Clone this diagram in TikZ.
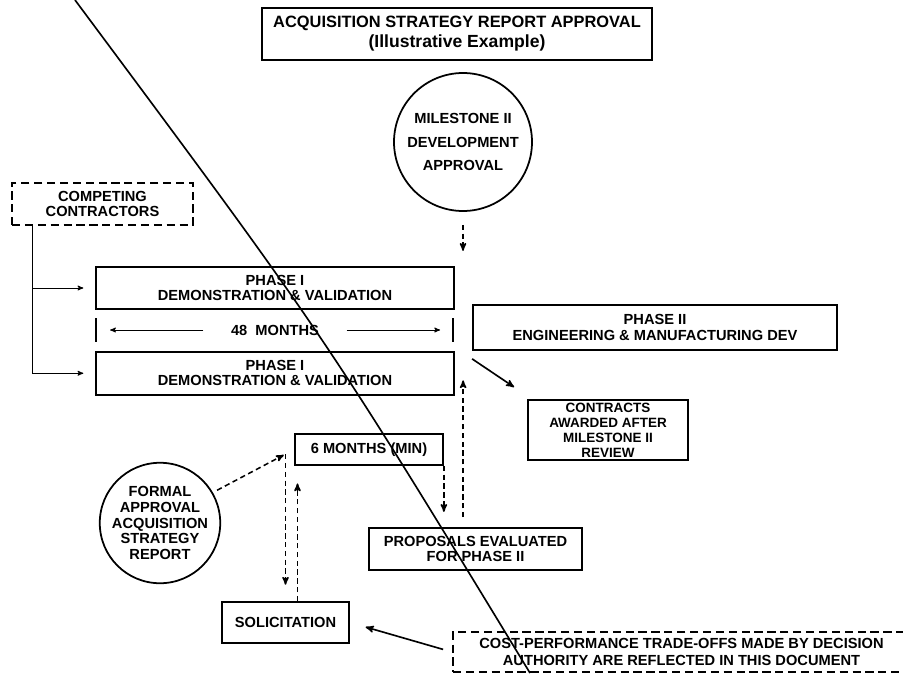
\documentclass[tikz,border=0pt]{standalone}
\usepackage{fontspec}
\setmainfont{Liberation Sans}
\usetikzlibrary{arrows, positioning, calc}
\tikzset{
  wh/.style 2 args={minimum width=#1*0.03cm, minimum height=#2*0.03cm},
  box/.style={draw, line width=1.5pt, align=center, inner sep=0pt},
  dbox/.style={box, dash pattern=on 7pt off 4pt},
  disc/.style={circle, draw, line width=1.5pt, align=center, inner sep=0pt},
  dline/.style={line width=1.3pt, dash pattern=on 4.5pt off 3pt},
  lead/.style={font=\bfseries\fontsize{12.5}{#1}\selectfont},
}

\begin{document}
\begin{tikzpicture}[x=0.03cm, y=-0.03cm, >=stealth', line width=1pt, every node/.style={lead=13}]
\useasboundingbox (0,0) rectangle (903,673);
\clip (0,0) rectangle (903,673);
% nodes
\node[box, wh={390}{52}, font=\bfseries\fontsize{14}{17}\selectfont] (title) at (457,34) {ACQUISITION STRATEGY REPORT APPROVAL\\{\fontsize{15}{17}\selectfont(Illustrative Example)}};
\node[disc, minimum size=138*0.03cm, lead=20] (msII) at (463,142) {MILESTONE II\\DEVELOPMENT\\APPROVAL};
\node[dbox, wh={181}{42}] (comp) at (102.5,204) {COMPETING\\CONTRACTORS};
\node[box, wh={358}{42}] (ph1a) at (275,288) {PHASE I\\DEMONSTRATION \& VALIDATION};
\node[box, wh={358}{43}, below=1.23cm of ph1a] (ph1b) {PHASE I\\DEMONSTRATION \& VALIDATION};
\node[wh={142}{20}] (mon) at (275,330) {48\ \ MONTHS};
\coordinate (ml) at (96,330);
\coordinate (mr) at (453,330);
\node[box, wh={364}{45}] (ph2) at (655,327.5) {PHASE II\\ENGINEERING \& MANUFACTURING DEV};
\node[box, wh={160}{60}, font=\bfseries\fontsize{11.5}{12.8}\selectfont] (contr) at (608,430) {CONTRACTS\\AWARDED AFTER\\MILESTONE II\\REVIEW};
\node[box, wh={148}{31}] (sixm) at (369,449.5) {6 MONTHS (MIN)};
\node[disc, minimum size=116*0.03cm, lead=13.3] (formal) at (160,523) {FORMAL\\APPROVAL\\ACQUISITION\\STRATEGY\\REPORT};
\node[box, wh={213}{42}] (prop) at (475.5,549) {PROPOSALS EVALUATED\\FOR PHASE II};
\node[box, wh={127}{41}] (solic) at (285.5,622.5) {SOLICITATION};
\node[dbox, wh={457}{40}, lead=14] (cost) at (681.5,652) {COST-PERFORMANCE TRADE-OFFS MADE BY DECISION\\AUTHORITY ARE REFLECTED IN THIS DOCUMENT};
% connectors
\draw[->, dline, shorten <=11] (msII.south) -- ++(0,39);
\coordinate (cj) at ($(comp.south west)+(21,0)$);
\draw[->, line width=0.8pt, shorten >=10] (cj) |- (ph1b.west);
\draw[->, line width=0.8pt, shorten >=10] (cj |- ph1a.west) -- (ph1a.west);
\draw[line width=1.5pt] (ml) ++(0,-12) -- ++(0,24);
\draw[line width=1.5pt] (mr) ++(0,-12) -- ++(0,24);
\draw[->, line width=0.8pt, shorten >=12] (mon.west) -- (ml);
\draw[->, line width=0.8pt, shorten >=11] (mon.east) -- (mr);
\draw[->, line width=1.4pt] ($(ph2.south west)+(0,8)$) -- ($(contr.north west)+(-13,-12)$);
\draw[->, dline, shorten <=4, shorten >=10] (formal.30) -- (sixm.west);
\draw[->, dline, shorten <=4, shorten >=14] (solic.north |- sixm.west) -- (solic.north);
\coordinate (su) at ($(solic.north)+(12,0)$);
\draw[->, dline, shorten >=15] (su) -- (su |- sixm.south);
\draw[->, dline, shorten >=13] (sixm.south east) -- (sixm.south east |- prop.north);
\coordinate (pu) at ($(prop.north west)+(95,-10)$);
\draw[->, dline, shorten >=6] (pu) -- (pu |- ph1b.east);
\draw[->, line width=1.4pt, shorten <=8, shorten >=14] (cost.west) -- (solic.east);
% stray scan line
\draw[line width=1.4pt] (75,0) .. controls (325,336) .. (530,673);
\end{tikzpicture}
\end{document}
